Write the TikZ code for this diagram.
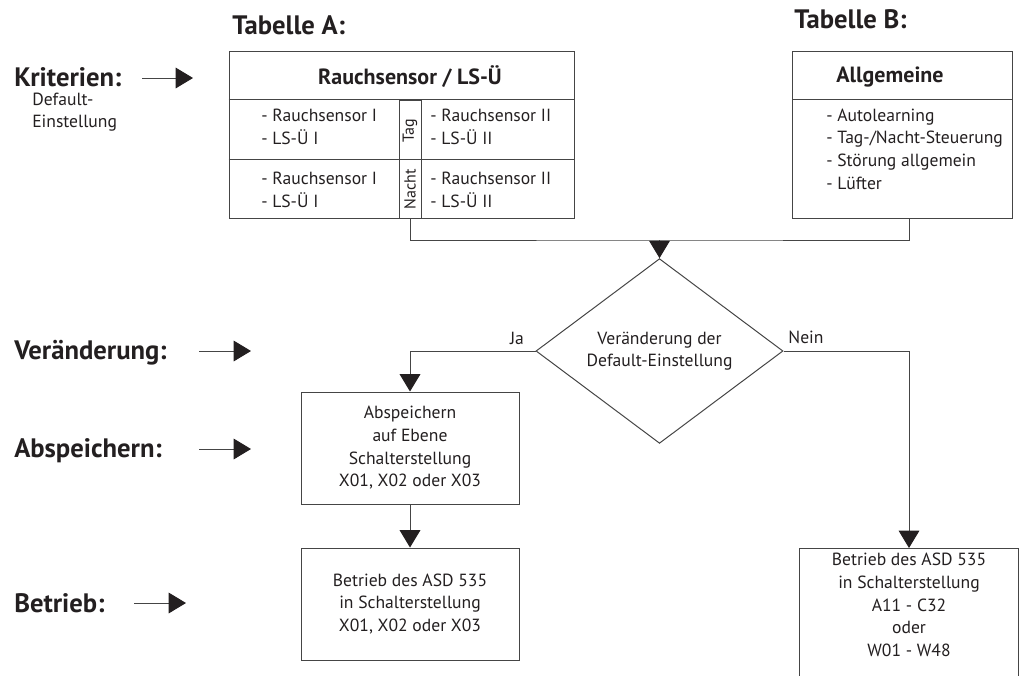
\documentclass[tikz,border=0pt]{standalone}
\usepackage{fontspec}
\setmainfont{PT Sans}
\usetikzlibrary{arrows.meta,shapes.geometric,calc}
\definecolor{ink}{HTML}{231F20}
\definecolor{rule}{HTML}{454545}

\begin{document}
\begin{tikzpicture}[x=0.75pt,y=-0.75pt,
  line/.style={draw=rule, line width=0.75pt},
  arr/.style={line, -{Triangle[length=13pt,width=15.5pt,color=ink]}},
  every node/.style={text=ink},
  body/.style={font=\fontsize{13.2pt}{17pt}\selectfont},
  heading/.style={font=\fontsize{20pt}{24pt}\selectfont\bfseries, anchor=west,
    inner sep=0pt, text height=14pt, text depth=0pt},
  head/.style={font=\fontsize{16.5pt}{19pt}\selectfont\bfseries, inner sep=0pt},
  cell/.style={body, anchor=west, align=left, inner sep=0pt},
  sidetag/.style={font=\fontsize{12pt}{14pt}\selectfont, rotate=90, inner sep=0pt},
  box/.style={line, rectangle, inner sep=0pt, minimum width=163.5pt,
    minimum height=84pt, body, align=center},
]
\useasboundingbox (0,0) rectangle (1024,675);
\clip (0,0) rectangle (1024,675);

% ---- headings on the left ----
\node[heading] (lkrit) at (14,77) {Kriterien:};
\node[cell, font=\fontsize{13.2pt}{16.5pt}\selectfont] (ldef) at (32,112) {Default-\\Einstellung};
\node[heading] (lver) at (14,350) {Veränderung:};
\node[heading] (lspei) at (14,448) {Abspeichern:};
\node[heading] (lbetr) at (14,603) {Betrieb:};

\coordinate (k1) at (142,78);  \coordinate (k2) at (193,78);
\coordinate (v1) at (199,351); \coordinate (v2) at (251,351);
\coordinate (s1) at (199,449); \coordinate (s2) at (251,449);
\coordinate (b1) at (134,603); \coordinate (b2) at (186,603);
\draw[arr] (k1) -- (k2);
\draw[arr] (v1) -- (v2);
\draw[arr] (s1) -- (s2);
\draw[arr] (b1) -- (b2);

% ---- Tabelle A ----
\node[heading] (titA) at (232,25) {Tabelle A:};
\node[line, rectangle, inner sep=0pt, minimum width=258.75pt, minimum height=125.25pt] (tabA) at (401.5,134.5) {};
\draw[line] ($(tabA.north west)+(0,49)$) -- ($(tabA.north east)+(0,49)$);
\draw[line] ($(tabA.south west)+(0,-59)$) -- ($(tabA.south east)+(0,-59)$);
\node[line, rectangle, inner sep=0pt, minimum width=16.5pt, minimum height=88.5pt] (colTN) at (410,159) {};
\node[head] (headA) at (410,77) {Rauchsensor / LS-Ü};
\node[sidetag] (tag) at (410,131) {Tag};
\node[sidetag] (nacht) at (410,189) {Nacht};
\node[cell] (a11) at (261,127) {- Rauchsensor I\\- LS-Ü I};
\node[cell] (a12) at (430,127) {- Rauchsensor II\\- LS-Ü II};
\node[cell] (a21) at (261,190) {- Rauchsensor I\\- LS-Ü I};
\node[cell] (a22) at (430,190) {- Rauchsensor II\\- LS-Ü II};

% ---- Tabelle B ----
\node[heading] (titB) at (794,19) {Tabelle B:};
\node[line, rectangle, inner sep=0pt, minimum width=165pt, minimum height=125.25pt] (tabB) at (902.5,134.5) {};
\draw[line] ($(tabB.north west)+(0,49)$) -- ($(tabB.north east)+(0,49)$);
\node[head] (headB) at (890,77) {Allgemeine};
\node[cell] (blist) at (826,149) {- Autolearning\\- Tag-/Nacht-Steuerung\\- Störung allgemein\\- Lüfter};

% ---- decision and actions ----
\node[diamond, line, inner sep=0pt, minimum width=185.25pt, minimum height=109.5pt, body, align=center] (dec) at (659.5,351) {Veränderung der\\Default-Einstellung};
\node[box] (save) at (410,448) {Abspeichern\\auf Ebene\\Schalterstellung\\X01, X02 oder X03};
\node[box] (runA) at (410,604) {Betrieb des ASD 535\\in Schalterstellung\\X01, X02 oder X03};
\node[body, align=center, anchor=north, inner xsep=0pt, inner ysep=3.75pt, minimum width=163.5pt] (runB) at (909,548) {Betrieb des ASD 535\\in Schalterstellung\\A11 - C32\\oder\\W01 - W48};
\draw[line] ($(runB.north west)+(0,160)$) -- (runB.north west) -- (runB.north east) -- ($(runB.north east)+(0,160)$);

\node[body, inner sep=0pt] (ja) at (517,338) {Ja};
\node[body, inner sep=0pt] (nein) at (806,337) {Nein};

% ---- connectors ----
\coordinate (jn) at (659.5,240);
\coordinate (bdrop) at (tabB.south -| runB.north);
\draw[line] (colTN.south) |- (jn) -| (bdrop);
\draw[arr] (jn) -- (dec.north);
\draw[arr] (dec.west) -| (save.north);
\draw[arr] (dec.east) -| (runB.north);
\draw[arr] (save.south) -- (runA.north);
\end{tikzpicture}
\end{document}
